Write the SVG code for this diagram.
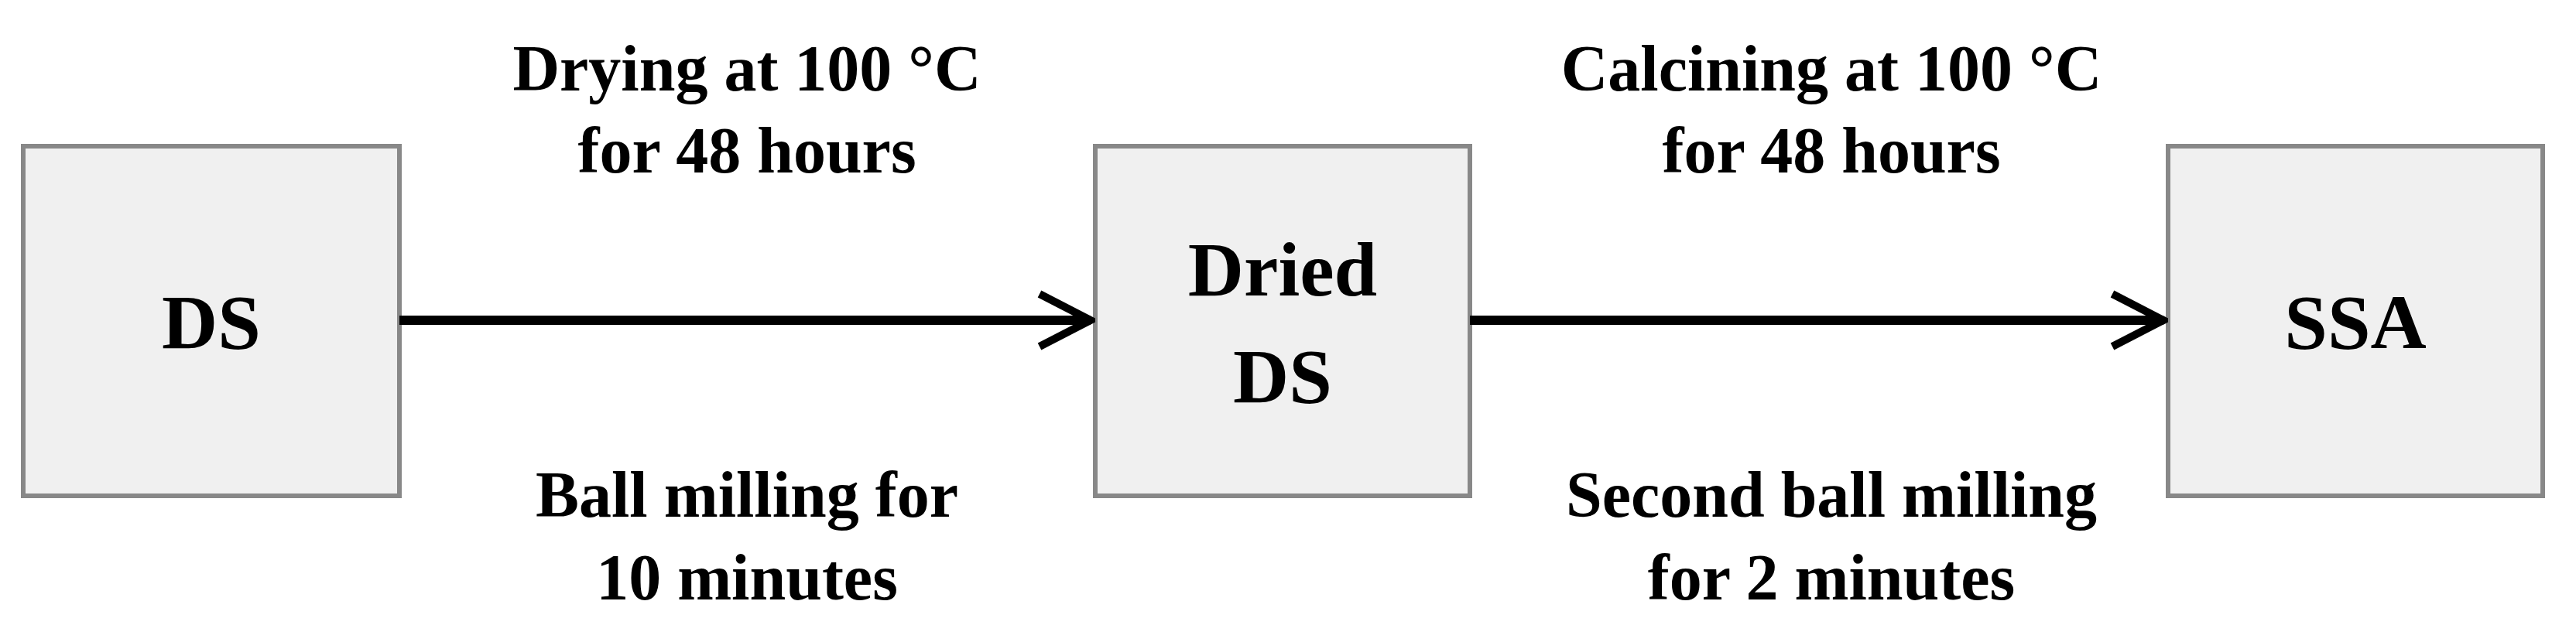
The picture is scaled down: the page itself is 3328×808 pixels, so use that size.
<svg xmlns="http://www.w3.org/2000/svg" width="3328" height="808" viewBox="0 0 3328 808">
<style>
.box{fill:#f0f0f0;stroke:#888;stroke-width:6}
.t{font-family:"Liberation Serif","Times New Roman",serif;font-weight:bold;text-anchor:middle;fill:#000}
.n{font-size:100px}
.l{font-size:84px}
.c{stroke:#000;stroke-width:12;fill:none}
</style>
<defs><marker id="a" markerUnits="userSpaceOnUse" markerWidth="80" markerHeight="80" refX="74" refY="40" orient="auto"><path d="M8 6 L74 40 L8 74" fill="none" stroke="#000" stroke-width="10"/></marker></defs>
<rect width="3328" height="808" fill="#fff"/>
<g id="n1"><rect class="box" x="30" y="189" width="486" height="452"/><text class="t n" x="273" y="450">DS</text></g>
<g id="n2"><rect class="box" x="1415" y="189" width="484" height="452"/><text class="t n" x="1657" y="382">Dried</text><text class="t n" x="1657" y="520">DS</text></g>
<g id="n3"><rect class="box" x="2801" y="189" width="484" height="452"/><text class="t n" x="3043" y="450">SSA</text></g>
<g id="connectors">
<line class="c" x1="516" y1="414" x2="1409" y2="414" marker-end="url(#a)"/>
<line class="c" x1="1899" y1="414" x2="2795" y2="414" marker-end="url(#a)"/>
</g>
<g id="labels">
<text class="t l" x="965" y="117">Drying at 100 °C</text>
<text class="t l" x="965" y="223">for 48 hours</text>
<text class="t l" x="965" y="668">Ball milling for</text>
<text class="t l" x="965" y="775">10 minutes</text>
<text class="t l" x="2366" y="117">Calcining at 100 °C</text>
<text class="t l" x="2366" y="223">for 48 hours</text>
<text class="t l" x="2366" y="668">Second ball milling</text>
<text class="t l" x="2366" y="775">for 2 minutes</text>
</g>
</svg>
